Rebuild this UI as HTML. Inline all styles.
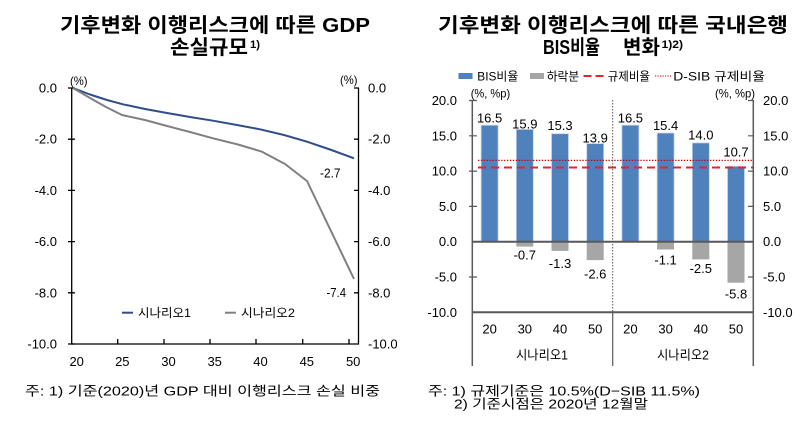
<!DOCTYPE html>
<html><head><meta charset="utf-8"><style>
html,body{margin:0;padding:0;background:#fff;}
svg{display:block;}
text{font-family:"Liberation Sans","Noto Sans CJK KR",sans-serif;fill:#000;}
.t{font-weight:bold;font-size:20px;}
.s{font-size:13px;}
.m{font-size:12px;}
</style></head><body>
<svg width="807" height="422" viewBox="0 0 807 422" xmlns="http://www.w3.org/2000/svg">
<!-- LEFT TITLE -->
<text class="t" x="60" y="32" textLength="310" lengthAdjust="spacingAndGlyphs">기후변화 이행리스크에 따른 GDP</text>
<text class="t" x="170" y="54" textLength="78" lengthAdjust="spacingAndGlyphs">손실규모</text>
<text x="250" y="48" style="font-size:11px;font-weight:bold" textLength="10" lengthAdjust="spacingAndGlyphs">1)</text>

<!-- LEFT CHART AXES -->
<g stroke="#000" stroke-width="1.3" fill="none">
<line x1="71.7" y1="88" x2="71.7" y2="344.5"/>
<line x1="358.5" y1="88" x2="358.5" y2="344.5"/>
<line x1="71" y1="344" x2="359" y2="344"/>
<!-- y ticks -->
<path d="M68 88H75M68 139.2H75M68 190.4H75M68 241.6H75M68 292.8H75M68 344H75"/>
<path d="M354 88H359M354 139.2H359M354 190.4H359M354 241.6H359M354 292.8H359"/>
<path d="M117.7 339V344M164 339V344M210 339V344M256 339V344M302.7 339V344M349 339V344"/>
</g>
<g class="s" text-anchor="end">
<text x="57" y="92.5">0.0</text>
<text x="57" y="143.7">-2.0</text>
<text x="57" y="194.9">-4.0</text>
<text x="57" y="246.1">-6.0</text>
<text x="57" y="297.3">-8.0</text>
<text x="57" y="348.5">-10.0</text>
</g>
<g class="s">
<text x="368" y="92.5">0.0</text>
<text x="368" y="143.7">-2.0</text>
<text x="368" y="194.9">-4.0</text>
<text x="368" y="246.1">-6.0</text>
<text x="368" y="297.3">-8.0</text>
<text x="368" y="348.5">-10.0</text>
</g>
<text class="m" x="70" y="85" textLength="17.5" lengthAdjust="spacingAndGlyphs">(%)</text>
<text class="m" x="340" y="84" textLength="17.5" lengthAdjust="spacingAndGlyphs">(%)</text>
<g class="s" text-anchor="middle">
<text x="76.7" y="366">20</text>
<text x="122.3" y="366">25</text>
<text x="168.5" y="366">30</text>
<text x="214.7" y="366">35</text>
<text x="260.5" y="366">40</text>
<text x="306.8" y="366">45</text>
<text x="353.2" y="366">50</text>
</g>
<!-- series -->
<polyline fill="none" stroke="#2f4e88" stroke-width="2" stroke-linejoin="round" points="73,88 90,94.5 107,100 123,104.3 145,109 167,113 190,117 213,120.7 237,125 260,129.3 284,135 307,141.7 330,149.5 354,158.3"/>
<polyline fill="none" stroke="#808080" stroke-width="2" stroke-linejoin="round" points="73,88 90,98 106,107 122,115 145,120 167,126 190,132 213,138.3 238,144.5 262,151.7 285,164 307,181 354,279"/>
<text class="s" x="320" y="177.5" textLength="20.5" lengthAdjust="spacingAndGlyphs">-2.7</text>
<text class="s" x="326.5" y="297" textLength="19.5" lengthAdjust="spacingAndGlyphs">-7.4</text>
<!-- legend -->
<line x1="122" y1="312.7" x2="133" y2="312.7" stroke="#2f4e88" stroke-width="2"/>
<text class="m" x="138" y="317" textLength="53" lengthAdjust="spacingAndGlyphs">시나리오1</text>
<line x1="225" y1="312.7" x2="236" y2="312.7" stroke="#808080" stroke-width="2"/>
<text class="m" x="241" y="317" textLength="54" lengthAdjust="spacingAndGlyphs">시나리오2</text>
<!-- footnote left -->
<text class="s" x="25" y="395.5" textLength="355" lengthAdjust="spacingAndGlyphs">주: 1) 기준(2020)년 GDP 대비 이행리스크 손실 비중</text>

<!-- RIGHT TITLE -->
<text class="t" x="438" y="32" textLength="350" lengthAdjust="spacingAndGlyphs">기후변화 이행리스크에 따른 국내은행</text>
<text class="t" x="543" y="54" textLength="57" lengthAdjust="spacingAndGlyphs">BIS비율</text>
<text class="t" x="623" y="54" textLength="37" lengthAdjust="spacingAndGlyphs">변화</text>
<text x="661.5" y="48" style="font-size:11px;font-weight:bold" textLength="21.5" lengthAdjust="spacingAndGlyphs">1)2)</text>

<!-- RIGHT LEGEND -->
<rect x="458.5" y="73" width="14" height="6" fill="#4f81bd"/>
<text class="m" x="477.3" y="80.5" textLength="41" lengthAdjust="spacingAndGlyphs">BIS비율</text>
<rect x="530" y="73" width="14" height="6" fill="#a6a6a6"/>
<text class="m" x="546.7" y="80.5" textLength="32.6" lengthAdjust="spacingAndGlyphs">하락분</text>
<line x1="583.5" y1="76" x2="604.3" y2="76" stroke="#e0262b" stroke-width="2" stroke-dasharray="8,4"/>
<text class="m" x="607.7" y="80.5" textLength="42.3" lengthAdjust="spacingAndGlyphs">규제비율</text>
<line x1="655" y1="76" x2="671" y2="76" stroke="#c00000" stroke-width="1" stroke-dasharray="1.2,1.3"/>
<text class="m" x="673.3" y="80.5" textLength="91.7" lengthAdjust="spacingAndGlyphs">D-SIB 규제비율</text>
<text class="m" x="470.7" y="97.5" textLength="39.5" lengthAdjust="spacingAndGlyphs">(%, %p)</text>
<text class="m" x="715" y="97.5" textLength="40" lengthAdjust="spacingAndGlyphs">(%, %p)</text>

<!-- BARS -->
<g fill="#4f81bd" stroke="#c6d6ea" stroke-width="0.8">
<rect x="481.1" y="125.2" width="17" height="116.5"/>
<rect x="516.3" y="129.4" width="17" height="112.3"/>
<rect x="551.5" y="133.7" width="17" height="108"/>
<rect x="586.7" y="143.6" width="17" height="98.1"/>
<rect x="621.9" y="125.2" width="17" height="116.5"/>
<rect x="657.1" y="133" width="17" height="108.7"/>
<rect x="692.3" y="142.9" width="17" height="98.8"/>
<rect x="727.5" y="166.2" width="17" height="75.5"/>
</g>
<g fill="#a6a6a6">
<rect x="516.3" y="241.7" width="17" height="4.9"/>
<rect x="551.5" y="241.7" width="17" height="9.2"/>
<rect x="586.7" y="241.7" width="17" height="18.4"/>
<rect x="657.1" y="241.7" width="17" height="7.8"/>
<rect x="692.3" y="241.7" width="17" height="17.7"/>
<rect x="727.5" y="241.7" width="17" height="41"/>
</g>
<!-- regulation lines -->
<line x1="478" y1="160.4" x2="753" y2="160.4" stroke="#c00000" stroke-width="1.2" stroke-dasharray="1.3,1.6"/>
<line x1="478" y1="167.5" x2="753" y2="167.5" stroke="#e0262b" stroke-width="2" stroke-dasharray="8,5"/>

<!-- RIGHT AXES -->
<g stroke="#595959" fill="none">
<line x1="472.3" y1="100" x2="472.3" y2="366" stroke-width="1.5"/>
<line x1="753.3" y1="100" x2="753.3" y2="366" stroke-width="1.5"/>
<line x1="472" y1="241.7" x2="754" y2="241.7" stroke-width="2"/>
<line x1="472" y1="312.3" x2="754" y2="312.3" stroke-width="2"/>
<line x1="612.7" y1="100" x2="612.7" y2="312" stroke-width="1" stroke-dasharray="1.5,1.5"/>
<line x1="612.7" y1="312" x2="612.7" y2="366" stroke-width="1.2"/>
<path d="M469 100.5H477M469 135.8H477M469 171.1H477M469 206.4H477M469 277H477" stroke-width="1.2"/>
<path d="M748 100.5H754M748 135.8H754M748 171.1H754M748 206.4H754M748 277H754" stroke-width="1.2"/>
</g>
<g class="s" text-anchor="end">
<text x="457" y="105">20.0</text>
<text x="457" y="140.3">15.0</text>
<text x="457" y="175.6">10.0</text>
<text x="457" y="210.9">5.0</text>
<text x="457" y="246.2">0.0</text>
<text x="457" y="281.5">-5.0</text>
<text x="457" y="316.8">-10.0</text>
</g>
<g class="s">
<text x="763" y="105">20.0</text>
<text x="763" y="140.3">15.0</text>
<text x="763" y="175.6">10.0</text>
<text x="763" y="210.9">5.0</text>
<text x="763" y="246.2">0.0</text>
<text x="763" y="281.5">-5.0</text>
<text x="763" y="316.8">-10.0</text>
</g>
<!-- value labels -->
<g class="s" text-anchor="middle">
<text x="489.6" y="122.5">16.5</text>
<text x="524.8" y="128.5">15.9</text>
<text x="560" y="130">15.3</text>
<text x="595.2" y="142.5">13.9</text>
<text x="630.4" y="122.5">16.5</text>
<text x="665.6" y="130">15.4</text>
<text x="700.8" y="139.5">14.0</text>
<text x="736" y="156.5">10.7</text>
<text x="524.8" y="259.5">-0.7</text>
<text x="560" y="267.8">-1.3</text>
<text x="595.2" y="278.5">-2.6</text>
<text x="665.6" y="264.5">-1.1</text>
<text x="700.8" y="273">-2.5</text>
<text x="736" y="298.5">-5.8</text>
</g>
<g class="s" text-anchor="middle">
<text x="489.6" y="333.5">20</text>
<text x="524.8" y="333.5">30</text>
<text x="560" y="333.5">40</text>
<text x="595.2" y="333.5">50</text>
<text x="630.4" y="333.5">20</text>
<text x="665.6" y="333.5">30</text>
<text x="700.8" y="333.5">40</text>
<text x="736" y="333.5">50</text>
</g>
<text class="s" x="516" y="359.5" textLength="52" lengthAdjust="spacingAndGlyphs">시나리오1</text>
<text class="s" x="657" y="359.5" textLength="52" lengthAdjust="spacingAndGlyphs">시나리오2</text>

<!-- footnote right -->
<text class="s" x="428" y="395.5" textLength="272" lengthAdjust="spacingAndGlyphs">주: 1) 규제기준은 10.5%(D−SIB 11.5%)</text>
<text class="s" x="454" y="408.5" textLength="194" lengthAdjust="spacingAndGlyphs">2) 기준시점은 2020년 12월말</text>
</svg>
</body></html>
